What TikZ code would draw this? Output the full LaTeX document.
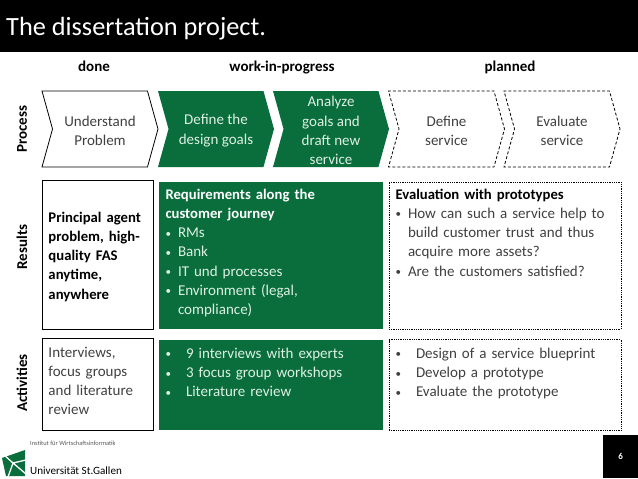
\documentclass[tikz,border=0pt]{standalone}
\usepackage{fontspec}
\setmainfont{Carlito}
\usetikzlibrary{positioning,shapes.symbols}
\definecolor{hsggreen}{HTML}{0A6E3C}
\definecolor{bodytext}{HTML}{404040}
\definecolor{greentext}{HTML}{DDF0E4}
\newcommand{\bodyfont}{\fontsize{15}{19.2}\selectfont}
\newcommand{\boldhead}{\fontsize{14.7}{19.2}\selectfont\bfseries}
\newcommand{\smallbullet}{{\fontsize{11}{11}\selectfont\raisebox{0.6pt}{•}}}
\newcommand{\bulletline}[1]{\hangindent=12.5pt\hangafter=1\makebox[12.5pt][l]{\smallbullet}#1\par}
\newcommand{\widebullet}[1]{\hangindent=20.5pt\hangafter=1\makebox[20.5pt][l]{\smallbullet}#1\par}
\newcommand{\chevtext}[1]{\parbox[c][70pt][c]{84pt}{\centering\vspace*{3pt}#1}}

\begin{document}
\begin{tikzpicture}[
            x=1pt, y=-1pt,
            node distance=6pt and 6pt,
            chevron/.style={
                shape=signal,
                signal from=west,
                signal to=east,
                signal pointer angle=149,
                inner sep=0pt,
                minimum width=116pt,
                minimum height=76pt,
                font=\bodyfont
            },
            chevdone/.style={chevron, draw=black, line width=0.8pt, text=bodytext},
            chevwork/.style={chevron, fill=hsggreen, text=greentext},
            chevplan/.style={chevron, draw=black, line width=0.8pt, densely dashed, text=bodytext},
            panel/.style={
                anchor=west,
                align=left,
                inner xsep=6.5pt,
                inner ysep=0pt,
                outer sep=0pt,
                font=\bodyfont
            },
            donepanel/.style={panel, draw=black, line width=0.9pt, text=bodytext, text width=98pt, minimum width=111pt},
            workpanel/.style={panel, fill=hsggreen, text=greentext, text width=211pt, minimum width=224pt},
            planpanel/.style={panel, draw=black, line width=0.8pt, densely dotted, text=bodytext, text width=219pt, minimum width=232pt},
            stagehead/.style={anchor=base, font=\fontsize{15}{18}\selectfont\bfseries, text=black},
            rowhead/.style={font=\fontsize{15}{18}\selectfont\bfseries, text=black, rotate=90}
        ]

            \useasboundingbox (0,0) rectangle (638,479);

            % header bar
            \node[fill=black, anchor=north west, minimum width=638pt, minimum height=52pt, inner sep=0pt] (headbar) at (0,0) {};
            \node[anchor=west, text=white, inner sep=0pt, font=\fontsize{26.3}{30}\selectfont] (headtitle) at (6,28.5) {The dissertation project.};

            % stages
            \node[stagehead] (done) at (94,71) {done};
            \node[stagehead] (wip) at (282,71) {work-in-progress};
            \node[stagehead] (planned) at (510,71) {planned};

            \node[rowhead] (process) at (22,129) {Process};
            \node[rowhead] (results) at (22,247) {Results};
            \node[rowhead] (activities) at (22,383) {Activities};

            % process row
            \node[chevdone] (understand) at (100,129) {\chevtext{Understand\\Problem}};
            \node[chevwork] (goals) at (216,129) {\chevtext{Define the\\design goals}};
            \node[chevwork] (analyze) at (331,129) {\chevtext{Analyze\\goals and\\draft new\\service}};
            \node[chevplan] (defservice) at (446.5,129) {\chevtext{Define\\service}};
            \node[chevplan] (evalservice) at (562,129) {\chevtext{Evaluate\\service}};

            % results row
            \node[donepanel, minimum height=149pt] (resdone) at (42,254.5) {%
                \vbox to 141pt{\hsize=98pt
                \vskip28pt
                {\boldhead\textcolor{black}{Principal agent\\problem, high-\\quality FAS\\anytime,\\anywhere}\par}
                \vss}};
            \node[workpanel, minimum height=147pt, right=6pt of resdone.east, yshift=-1pt, anchor=west] (reswork) {%
                \vbox to 139pt{\hsize=211pt
                \vskip3pt
                {\boldhead\textcolor{white}{Requirements along the\\customer journey}\par}
                \bulletline{RMs}
                \bulletline{Bank}
                \bulletline{IT und processes}
                \bulletline{Environment (legal,\newline compliance)}
                \vss}};
            \node[planpanel, minimum height=147pt, right=6pt of reswork.east, anchor=west] (resplan) {%
                \vbox to 139pt{\hsize=219pt
                \vskip3pt
                {\boldhead\textcolor{black}{Evaluation with prototypes}\par}
                \bulletline{How can such a service help to\newline build customer trust and thus\newline acquire more assets?}
                \bulletline{Are the customers satisfied?}
                \vss}};

            % activities row
            \node[donepanel, minimum height=92pt] (actdone) at (42,384) {%
                \vbox to 84pt{\hsize=98pt
                \vskip5pt
                Interviews,\\focus groups\\and literature\\review\par
                \vss}};
            \node[workpanel, minimum height=90pt, right=6pt of actdone.east, yshift=-1pt, anchor=west] (actwork) {%
                \vbox to 82pt{\hsize=211pt
                \vskip4pt
                \widebullet{9 interviews with experts}
                \widebullet{3 focus group workshops}
                \widebullet{Literature review}
                \vss}};
            \node[planpanel, minimum height=91pt, right=6pt of actwork.east, anchor=west] (actplan) {%
                \vbox to 82pt{\hsize=219pt
                \vskip4pt
                \widebullet{Design of a service blueprint}
                \widebullet{Develop a prototype}
                \widebullet{Evaluate the prototype}
                \vss}};

            % page number
            \node[fill=black, text=white, anchor=north west, minimum width=35pt, minimum height=43pt, inner sep=0pt, font=\fontsize{9}{10}\selectfont\bfseries] (pagenum) at (603,435) {6};

            % logo
            \node[anchor=west, inner sep=0pt, text=black!65, font=\fontsize{6.4}{7}\selectfont] (institute) at (30,443) {Institut für Wirtschaftsinformatik};
            \node[anchor=west, inner sep=0pt, text=black, font=\fontsize{11.1}{13}\selectfont] (university) at (30,471) {Universität St.Gallen};
            \fill[hsggreen] (2,458) -- (25,450) -- (25,476) -- (6,476) -- cycle;
            \draw[white, line width=1.3pt] (4,455) -- (13,463) -- (26,460) (13,463) -- (8,477) (13,463) -- (26,474);

        \end{tikzpicture}
\end{document}
